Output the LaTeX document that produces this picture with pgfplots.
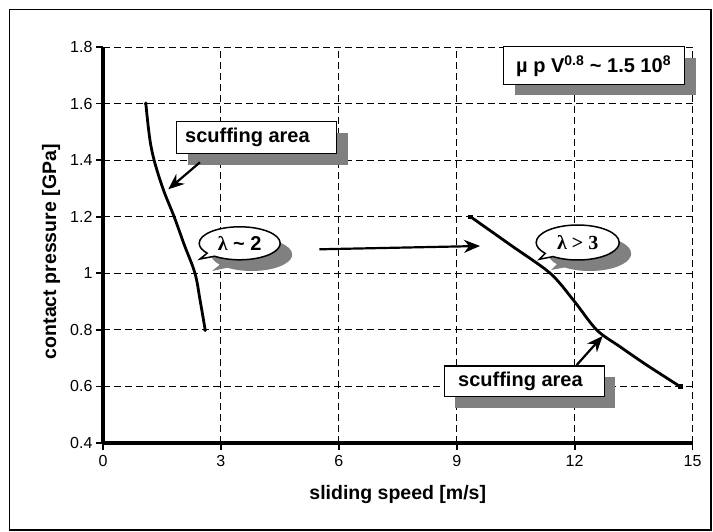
\documentclass[border=0pt]{standalone}
\usepackage{pgfplots}
\pgfplotsset{compat=1.18}
\usepackage{fontspec}
\setmainfont{Liberation Sans}
\newfontfamily\serifb{Liberation Serif}
\usetikzlibrary{arrows.meta,shapes.callouts}

\pgfplotstableread{
x y
1.09 1.60
1.15 1.52
1.22 1.45
1.34 1.38
1.55 1.29
1.81 1.20
2.07 1.10
2.34 1.00
2.47 0.905
2.60 0.80
}\leftcurve

\pgfplotstableread{
x y
9.35 1.20
10.37 1.10
11.38 1.00
11.97 0.905
12.56 0.80
13.16 0.74
13.83 0.676
14.68 0.60
}\rightcurve

\newcommand{\annfont}{\bfseries\fontsize{20}{23}\selectfont}

\begin{document}
\begin{tikzpicture}
\begin{scope}[x=1pt,y=-1pt]
\path[use as bounding box] (0,0) rectangle (713,532);
\draw[line width=1.5pt] (9.5,9.5) rectangle (711,530);
\end{scope}
\begin{axis}[
  at={(103pt,-443pt)}, anchor=south west,
  width=589.5pt, height=396pt, scale only axis,
  xmin=0, xmax=15, ymin=0.4, ymax=1.8,
  xtick={0,3,6,9,12,15},
  ytick={0.4,0.6,0.8,1,1.2,1.4,1.6,1.8},
  grid=major,
  major grid style={black, line width=0.9pt, dash pattern=on 7pt off 4pt},
  axis x line*=bottom, axis y line*=left,
  axis line style={line width=3.5pt, -},
  tick style={black, line width=1.8pt},
  tick align=outside, major tick length=7pt,
  ticklabel style={font=\fontsize{16}{19}\selectfont},
  xticklabel style={yshift=-2pt},
  /pgf/number format/assume math mode=true,
  xlabel={sliding speed [m/s]},
  ylabel={contact pressure [GPa]},
  label style={font=\bfseries\fontsize{19.5}{23}\selectfont},
  xlabel style={at={(axis description cs:0.5,0)}, anchor=center, yshift=-51pt},
  ylabel style={at={(axis description cs:0,0.483)}, anchor=center, yshift=52pt},
]
\addplot[black, line width=2.8pt, smooth, tension=0.6] table[x=x,y=y] {\leftcurve};
\addplot[black, line width=2.8pt, smooth, tension=0.5] table[x=x,y=y] {\rightcurve};
\addplot[only marks, mark=*, mark size=1.8pt, black] coordinates {(1.09,1.60) (2.60,0.80)};
\addplot[only marks, mark=square*, mark size=1.8pt, black] coordinates {(9.35,1.20) (14.68,0.60)};
\end{axis}
\begin{scope}[x=1pt,y=-1pt]
% top scuffing area box
\fill[gray] (187.7,133) rectangle (347.7,164.6);
\draw[line width=1.5pt, fill=white] (176.7,121.7) rectangle (336.7,153.3);
\node[anchor=west, inner sep=0pt, font=\annfont] at (185,137.5) {scuffing area};
\draw[line width=2.2pt, -{Stealth[length=16pt,width=13pt]}] (200,162.3) -- (168.3,189.3);
% bottom scuffing area box
\fill[gray] (455.3,377) rectangle (615.3,407.7);
\draw[line width=1.5pt, fill=white] (444.3,366) rectangle (604.3,396.7);
\node[anchor=west, inner sep=0pt, font=\annfont] at (458,381.3) {scuffing area};
\draw[line width=2.2pt, -{Stealth[length=16pt,width=13pt]}] (576.7,365) -- (602.7,336);
% top right box
\fill[gray] (515.3,57.7) rectangle (696.3,95.3);
\draw[line width=1.5pt, fill=white] (503.3,46.7) rectangle (684.3,84.3);
\node[anchor=west, inner sep=0pt, font=\annfont] at (516,66) {\textmu\ p V\textsuperscript{0.8} \textasciitilde\ 1.5 10\textsuperscript{8}};
% middle arrow
\draw[line width=2.2pt, -{Stealth[length=16pt,width=13pt]}] (319.3,249.3) -- (480,246);
% lambda ~ 2 callout
\node[ellipse callout, fill=gray, inner sep=0pt, minimum width=81pt, minimum height=33pt,
      callout absolute pointer={(212,271)}] at (251.7,254.5) {};
\node[ellipse callout, draw, line width=1.5pt, fill=white, inner sep=0pt, minimum width=81pt, minimum height=33pt,
      callout absolute pointer={(200,259)}, font=\annfont] at (239.7,243.3) {{\serifb λ} \textasciitilde\ 2};
% lambda > 3 callout
\node[ellipse callout, fill=gray, inner sep=0pt, minimum width=83pt, minimum height=35pt,
      callout absolute pointer={(551,270)}] at (589.7,253.5) {};
\node[ellipse callout, draw, line width=1.5pt, fill=white, inner sep=0pt, minimum width=83pt, minimum height=35pt,
      callout absolute pointer={(539.3,259.3)}, font=\annfont] at (577.7,242.5) {\serifb λ > 3};
\end{scope}
\end{tikzpicture}
\end{document}
